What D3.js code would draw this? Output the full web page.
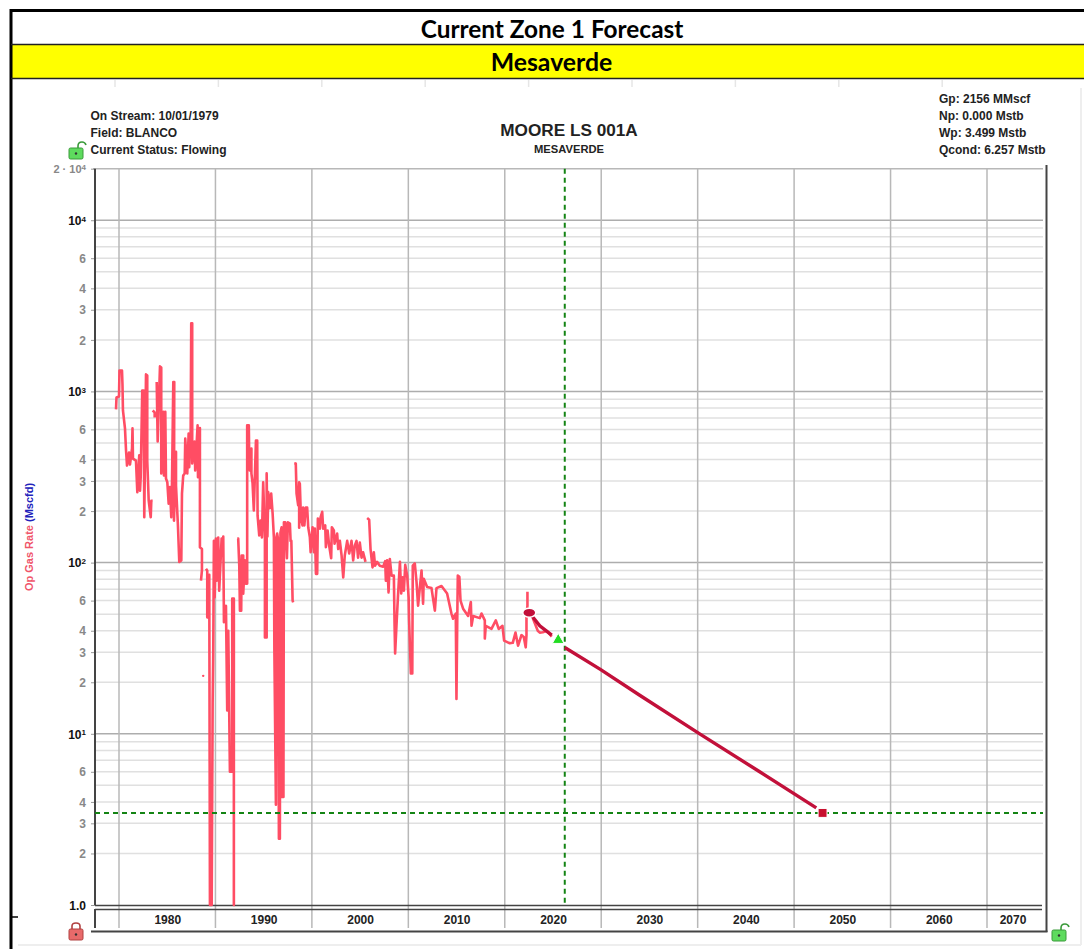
<!DOCTYPE html>
<html>
<head>
<meta charset="utf-8">
<script src="https://cdn.jsdelivr.net/npm/d3@7"></script>
<style>
    html, body { margin: 0; padding: 0; background: #fff; overflow: hidden; }
    svg { display: block; }
    text { font-family: "Liberation Sans", Arial, sans-serif; font-weight: bold; }
</style>
</head>
<body>
<div id="chart"></div>
<script>
// Header and annotation text
const headerTitle = "Current Zone 1 Forecast";
const headerZone = "Mesaverde";
const chartTitle = "MOORE LS 001A";
const chartSubtitle = "MESAVERDE";
const infoLeft = ["On Stream: 10/01/1979", "Field: BLANCO", "Current Status: Flowing"];
const infoRight = ["Gp: 2156 MMscf", "Np: 0.000 Mstb", "Wp: 3.499 Mstb", "Qcond: 6.257 Mstb"];

// Axis values
const gridYears = [1975, 1985, 1995, 2005, 2015, 2025, 2035, 2045, 2055, 2065];
const labelYears = [1980, 1990, 2000, 2010, 2020, 2030, 2040, 2050, 2060, 2070];
const majorRates = [10000, 1000, 100, 10];
const minorRates = [
    9000, 8000, 7000, 6000, 5000, 4000, 3000, 2000,
    900, 800, 700, 600, 500, 400, 300, 200,
    90, 80, 70, 60, 50, 40, 30, 20,
    9, 8, 7, 6, 5, 4, 3, 2
];
const labelledMinorRates = [6000, 4000, 3000, 2000, 600, 400, 300, 200, 60, 40, 30, 20, 6, 4, 3, 2];

// Op gas rate history, [year, Mscfd]
const history1975 = [
    [1974.69, 785], [1974.74, 921], [1975.00, 934], [1975.05, 1326], [1975.31, 1326], [1975.36, 1099],
    [1975.41, 774], [1975.62, 608], [1975.73, 452], [1975.83, 369], [1976.04, 440], [1976.14, 374],
    [1976.35, 464], [1976.40, 608], [1976.45, 405], [1976.76, 394], [1976.90, 258], [1977.10, 423],
    [1977.18, 263], [1977.25, 314], [1977.41, 1013], [1977.56, 1013], [1977.62, 184], [1977.73, 592],
    [1977.80, 1257], [1977.93, 1240], [1977.93, 394], [1978.08, 230], [1978.29, 184], [1978.35, 230],
    [1978.49, 230]
];
const history1978 = [[1978.49, 774], [1978.70, 754], [1978.70, 705]];
const history1979 = [
    [1978.91, 1134], [1979.01, 510], [1979.25, 1400], [1979.38, 1381], [1979.38, 332], [1979.59, 760],
    [1979.66, 323], [1979.80, 760], [1979.87, 310], [1980.01, 295], [1980.15, 221], [1980.28, 276],
    [1980.42, 184], [1980.49, 276], [1980.63, 1134], [1980.73, 1134], [1980.70, 176], [1980.91, 444],
    [1980.91, 282], [1981.11, 165], [1981.25, 101], [1981.46, 103], [1981.53, 253], [1981.66, 323],
    [1981.81, 332], [1981.87, 531], [1982.08, 332], [1982.22, 568], [1982.28, 361], [1982.43, 570],
    [1982.49, 2500], [1982.59, 2500], [1982.59, 379], [1982.84, 510], [1982.90, 345], [1983.15, 633],
    [1983.19, 315], [1983.39, 612], [1983.39, 568], [1983.39, 123], [1983.60, 120], [1983.60, 90],
    [1983.50, 78.5]
];
const history1984 = [
    [1984.02, 92], [1984.15, 89.7], [1984.15, 47.9], [1984.36, 84.9], [1984.43, 1], [1984.61, 1],
    [1984.71, 15.3], [1984.77, 28.6], [1984.84, 134], [1984.92, 62.7], [1985.05, 138], [1985.12, 78.5],
    [1985.29, 140], [1985.39, 68.6], [1985.64, 138], [1985.73, 122], [1985.81, 142], [1985.88, 44.8],
    [1986.09, 56], [1986.22, 13.7], [1986.33, 40], [1986.50, 6], [1986.74, 6], [1986.74, 61.6],
    [1986.91, 61.6], [1986.91, 1], [1987.02, 1]
];
const history1987 = [
    [1987.26, 138], [1987.36, 138], [1987.47, 96], [1987.54, 52.4], [1987.67, 52.4], [1987.72, 110],
    [1987.88, 110], [1987.88, 65.9], [1988.05, 103], [1988.16, 75.4], [1988.29, 75.4], [1988.29, 633],
    [1988.46, 633], [1988.49, 464], [1988.56, 345], [1988.73, 464], [1988.73, 332], [1988.85, 290],
    [1988.98, 202], [1989.20, 516], [1989.33, 516], [1989.37, 188], [1989.54, 144], [1989.68, 176],
    [1989.82, 140.5], [1989.95, 295], [1990.13, 140], [1990.13, 36.5], [1990.31, 36.5], [1990.31, 332],
    [1990.39, 142], [1990.47, 258], [1990.65, 208], [1990.78, 253], [1990.93, 193], [1991.06, 140],
    [1991.11, 30.6], [1991.27, 3.85], [1991.32, 140], [1991.40, 147.7], [1991.47, 140], [1991.58, 2.44],
    [1991.68, 2.44], [1991.74, 150], [1991.86, 161], [1991.89, 4.28], [1992.05, 4.28], [1992.10, 172],
    [1992.23, 172], [1992.41, 106], [1992.51, 172], [1992.72, 169], [1992.79, 134], [1992.87, 134],
    [1993.00, 60], [1993.06, 58.6]
];
const history1993 = [
    [1993.17, 381], [1993.33, 379], [1993.41, 253], [1993.58, 216], [1993.68, 295], [1993.68, 160],
    [1993.75, 290], [1993.86, 184], [1994.03, 165], [1994.09, 210], [1994.22, 165], [1994.37, 210],
    [1994.51, 210], [1994.62, 161], [1994.79, 140.5], [1994.87, 115], [1995.07, 161], [1995.21, 115],
    [1995.31, 158], [1995.42, 86], [1995.55, 86], [1995.62, 181], [1995.83, 158], [1995.90, 184],
    [1996.07, 198], [1996.17, 158], [1996.38, 165], [1996.45, 123], [1996.63, 154], [1996.79, 126],
    [1997.00, 106], [1997.07, 161], [1997.28, 154], [1997.35, 129], [1997.62, 148], [1997.73, 120],
    [1997.90, 134], [1998.08, 110], [1998.25, 81.9], [1998.41, 110], [1998.66, 134], [1998.87, 113],
    [1999.11, 134], [1999.28, 103], [1999.45, 126], [1999.63, 134], [1999.79, 107], [1999.97, 131],
    [2000.15, 107], [2000.31, 115], [2000.56, 101]
];
const history2001 = [
    [2000.73, 182], [2000.94, 178], [2001.08, 120], [2001.29, 93.7], [2001.42, 115], [2001.55, 96],
    [2001.76, 101], [2002.04, 96], [2002.39, 94.7], [2002.60, 102], [2002.67, 78.5], [2002.80, 103],
    [2002.95, 67], [2003.08, 105], [2003.26, 83.9], [2003.50, 83.9], [2003.57, 44], [2003.63, 29.5],
    [2003.78, 44], [2003.92, 62.7], [2004.13, 101], [2004.26, 66], [2004.41, 82], [2004.54, 68.6],
    [2004.68, 97], [2004.88, 83.9], [2005.03, 62.7], [2005.08, 46], [2005.26, 22.5], [2005.41, 22.5],
    [2005.46, 96], [2005.67, 99], [2005.85, 77], [2006.01, 56], [2006.37, 90], [2006.53, 57.6],
    [2006.60, 80.5], [2006.95, 72], [2007.40, 71], [2007.75, 52.4], [2007.92, 71], [2008.44, 73],
    [2009.02, 66], [2009.47, 50.4], [2009.64, 47], [2009.92, 50.4], [2009.99, 16], [2010.08, 50.4],
    [2010.13, 84], [2010.29, 82.7], [2010.41, 60], [2010.68, 53.8], [2011.20, 48.8], [2011.48, 58.8],
    [2011.55, 42.8], [2011.72, 48.8], [2012.41, 47.4], [2012.59, 50.4], [2012.93, 46], [2012.93, 36],
    [2013.03, 42.7], [2013.62, 41], [2014.07, 46], [2014.37, 41], [2014.76, 42.7], [2014.93, 35],
    [2015.52, 33.8], [2015.83, 34], [2016.11, 39], [2016.38, 32.7], [2016.73, 37.7], [2016.97, 36.8],
    [2017.17, 32], [2017.25, 37.7], [2017.25, 49], [2017.35, 56], [2017.35, 67.6]
];
const history2018 = [
    [2017.90, 47.4], [2018.42, 40], [2018.63, 39], [2018.94, 39.2], [2019.35, 40], [2019.87, 37]
];
const historyPieces = [history1975, history1978, history1979, history1984, history1987, history1993, history2001, history2018];
const strayPoints = [[1983.73, 21.8]];

// Forecast
const forecastFit = [[2017.80, 48.9], [2018.63, 42.7], [2019.87, 37.7]];
const forecastRun = [[2021.22, 31.9], [2024.95, 23.7], [2028.99, 16.8], [2035.21, 10], [2041.43, 6], [2047.30, 3.69]];
const forecastStart = [2017.54, 51];
const forecastNow = [2020.54, 35.3];
const forecastEnd = [2047.95, 3.45];
const currentYear = 2021.22;
const rateLimit = 3.45;

function drawLock(svg, x, y, body, edge, open) {
    const g = svg.append("g").attr("transform", `translate(${x},${y})`);
    const shackle = open ? "M9,1 V-2 Q9,-6 13,-6 Q16,-6 17,-3" : "M3,0 V-3 Q3,-6 7,-6 Q11,-6 11,-3 V0";
    g.append("path").attr("d", shackle).attr("fill", "none").attr("stroke", edge).attr("stroke-width", 1.6);
    g.append("rect").attr("width", 14).attr("height", 11).attr("rx", 1.5)
        .attr("fill", body).attr("stroke", edge);
    g.append("circle").attr("cx", 7).attr("cy", 5.5).attr("r", 1.2).attr("fill", "#333");
}

function createChart() {
    const width = 1084;
    const height = 949;
    const left = 95;
    const right = 1043;
    const top = 168.7;
    const bottom = 905;

    const svg = d3.select("#chart").append("svg")
        .attr("width", width)
        .attr("height", height);

    const x = d3.scaleLinear().domain([1975, 2065]).range([119, 987]);
    const y = d3.scaleLog().domain([1, 20000]).range([bottom, top]);

    // Page furniture
    svg.append("rect").attr("x", 12).attr("y", 45).attr("width", width - 12).attr("height", 33).attr("fill", "#ffff00");
    svg.append("line").attr("x1", 11).attr("x2", width).attr("y1", 10.5).attr("y2", 10.5).attr("stroke", "#000").attr("stroke-width", 3);
    svg.append("line").attr("x1", 11).attr("x2", 11).attr("y1", 9).attr("y2", height).attr("stroke", "#000").attr("stroke-width", 3);
    svg.append("line").attr("x1", 11).attr("x2", width).attr("y1", 44.5).attr("y2", 44.5).attr("stroke", "#222").attr("stroke-width", 1.5);
    svg.append("line").attr("x1", 11).attr("x2", width).attr("y1", 78.5).attr("y2", 78.5).attr("stroke", "#222").attr("stroke-width", 1.5);
    svg.append("line").attr("x1", 11).attr("x2", 18).attr("y1", 917).attr("y2", 917).attr("stroke", "#000").attr("stroke-width", 1.5);
    svg.append("line").attr("x1", 18).attr("x2", 1081).attr("y1", 945).attr("y2", 945).attr("stroke", "#eee").attr("stroke-width", 2);
    svg.append("line").attr("x1", 1081).attr("x2", 1081).attr("y1", 88).attr("y2", 945).attr("stroke", "#eee").attr("stroke-width", 2);
    // faint ruler ticks under the yellow band
    svg.selectAll(".ruler").data(d3.range(115, 1000, 103.4)).enter().append("line")
        .attr("x1", d => d).attr("x2", d => d).attr("y1", 80).attr("y2", 87)
        .attr("stroke", "#e6e6e6").attr("stroke-width", 1.5);

    svg.append("text").attr("x", 552).attr("y", 38).attr("text-anchor", "middle")
        .style("font-family", "Lato").style("font-size", "24.4px").attr("fill", "#000").text(headerTitle);
    svg.append("text").attr("x", 551.5).attr("y", 71).attr("text-anchor", "middle")
        .style("font-family", "Lato").style("font-size", "24.8px").attr("fill", "#000").text(headerZone);

    // Grid
    const grid = svg.append("g");
    grid.selectAll(".minor").data(minorRates).enter().append("line")
        .attr("x1", left).attr("x2", right)
        .attr("y1", d => y(d)).attr("y2", d => y(d))
        .attr("stroke", "#e0e0e0").attr("stroke-width", 1.5);
    grid.selectAll(".major").data(majorRates).enter().append("line")
        .attr("x1", left).attr("x2", right)
        .attr("y1", d => y(d)).attr("y2", d => y(d))
        .attr("stroke", "#adadad").attr("stroke-width", 1.5);
    grid.selectAll(".year").data(gridYears).enter().append("line")
        .attr("x1", d => x(d)).attr("x2", d => x(d))
        .attr("y1", top).attr("y2", 928)
        .attr("stroke", "#b8b8b8").attr("stroke-width", 1.5);
    grid.append("line").attr("x1", 93).attr("x2", right).attr("y1", top).attr("y2", top)
        .attr("stroke", "#b8b8b8").attr("stroke-width", 1.5);

    // Axes
    const yAxis = d3.axisLeft(y)
        .tickValues([20000].concat(majorRates, labelledMinorRates, [1]))
        .tickSize(4)
        .tickFormat("");
    const yGroup = svg.append("g").attr("transform", `translate(${left},0)`).call(yAxis);
    yGroup.select(".domain").remove();
    yGroup.selectAll(".tick line").attr("stroke", "#999");
    yGroup.selectAll(".tick").each(function (d) {
        const label = d3.select(this).select("text")
            .attr("x", -9)
            .attr("dy", "0.35em")
            .style("font-size", "12px");
        if (d === 20000) {
            label.attr("fill", "#888").style("font-size", "11px").text("2 · 10");
            label.append("tspan").attr("dy", "-0.4em").style("font-size", "8px").text("4");
        } else if (d === 1) {
            label.attr("fill", "#111").text("1.0");
        } else if (majorRates.includes(d)) {
            label.attr("fill", "#111").text("10");
            label.append("tspan").attr("dy", "-0.4em").style("font-size", "8px").text(Math.round(Math.log10(d)));
        } else {
            label.attr("fill", "#888").text(d / Math.pow(10, Math.floor(Math.log10(d))));
        }
    });

    const xAxis = d3.axisBottom(x).tickValues(labelYears).tickSize(0).tickFormat(d3.format("d"));
    const xGroup = svg.append("g").attr("transform", `translate(0,${bottom})`).call(xAxis);
    xGroup.select(".domain").remove();
    xGroup.selectAll(".tick text").attr("y", 15).attr("dy", "0.35em").attr("fill", "#222").style("font-size", "12px");
    // the last label sits in the middle of the part of the decade that is visible
    xGroup.selectAll(".tick").filter(d => d === 2070)
        .attr("transform", `translate(${(x(2065) + right) / 2 - 2},0)`);

    // Frame
    const frame = svg.append("g").attr("stroke", "#444").attr("fill", "none");
    frame.append("line").attr("x1", left).attr("x2", left).attr("y1", top).attr("y2", bottom).attr("stroke-width", 2);
    frame.append("line").attr("x1", left).attr("x2", left).attr("y1", 909).attr("y2", 928).attr("stroke-width", 2);
    frame.append("line").attr("x1", left).attr("x2", 1042).attr("y1", bottom + 0.5).attr("y2", bottom + 0.5).attr("stroke-width", 1.5);
    frame.append("line").attr("x1", left).attr("x2", 1042).attr("y1", 909.5).attr("y2", 909.5).attr("stroke-width", 1.5);
    frame.append("line").attr("x1", 91).attr("x2", 1047.5).attr("y1", 931.5).attr("y2", 931.5).attr("stroke-width", 2);
    frame.append("line").attr("x1", 1046.5).attr("x2", 1046.5).attr("y1", 165).attr("y2", 932).attr("stroke-width", 2);

    // Series
    const rateLine = d3.line().x(d => x(d[0])).y(d => y(d[1]));

    svg.selectAll(".history").data(historyPieces).enter().append("path")
        .attr("d", rateLine)
        .attr("fill", "none")
        .attr("stroke", "#ff4d64")
        .attr("stroke-width", 2.6)
        .attr("stroke-linejoin", "round");
    svg.selectAll(".stray").data(strayPoints).enter().append("circle")
        .attr("cx", d => x(d[0])).attr("cy", d => y(d[1])).attr("r", 1.2).attr("fill", "#ff4d64");

    // Cut-off lines
    const limits = svg.append("g").attr("stroke", "#148414").attr("stroke-width", 2).attr("stroke-dasharray", "5,4");
    limits.append("line").attr("x1", x(currentYear)).attr("x2", x(currentYear)).attr("y1", top).attr("y2", bottom);
    limits.append("line").attr("x1", left).attr("x2", right).attr("y1", y(rateLimit)).attr("y2", y(rateLimit));

    svg.selectAll(".forecast").data([forecastFit, forecastRun]).enter().append("path")
        .attr("d", rateLine)
        .attr("fill", "none")
        .attr("stroke", "#c2103a")
        .attr("stroke-width", 3.4);

    // Forecast markers
    svg.append("ellipse")
        .attr("cx", x(forecastStart[0])).attr("cy", y(forecastStart[1]))
        .attr("rx", 6.5).attr("ry", 4.5)
        .attr("fill", "#c2103a").attr("stroke", "#fff").attr("stroke-width", 1.5);
    svg.append("path")
        .attr("transform", `translate(${x(forecastNow[0])},${y(forecastNow[1])})`)
        .attr("d", d3.symbol(d3.symbolTriangle, 60))
        .attr("fill", "#22dd22").attr("stroke", "#fff");
    svg.append("path")
        .attr("transform", `translate(${x(forecastEnd[0])},${y(forecastEnd[1])})`)
        .attr("d", d3.symbol(d3.symbolSquare, 80))
        .attr("fill", "#c8102e").attr("stroke", "#fff");

    // Titles and well info
    svg.append("text").attr("x", 569).attr("y", 135.5).attr("text-anchor", "middle")
        .style("font-size", "17.2px").attr("fill", "#222").text(chartTitle);
    svg.append("text").attr("x", 569).attr("y", 153).attr("text-anchor", "middle")
        .style("font-size", "11.2px").attr("fill", "#222").text(chartSubtitle);
    svg.selectAll(".infoLeft").data(infoLeft).enter().append("text")
        .attr("x", 90.5).attr("y", (d, i) => 120 + i * 17)
        .style("font-size", "12px").attr("fill", "#222").text(d => d);
    svg.selectAll(".infoRight").data(infoRight).enter().append("text")
        .attr("x", 939).attr("y", (d, i) => 103 + i * 17)
        .style("font-size", "12px").attr("fill", "#222").text(d => d);

    const yTitle = svg.append("text")
        .attr("transform", "translate(33,537) rotate(-90)")
        .attr("text-anchor", "middle")
        .style("font-size", "11px");
    yTitle.append("tspan").attr("fill", "#f0556a").text("Op Gas Rate ");
    yTitle.append("tspan").attr("fill", "#2222bb").text("(Mscfd)");

    // Lock icons
    drawLock(svg, 69, 148, "#5edb5e", "#3a9a3a", true);
    drawLock(svg, 69, 929, "#e86a6a", "#b04040", false);
    drawLock(svg, 1052, 930, "#5edb5e", "#3a9a3a", true);
}

document.addEventListener("DOMContentLoaded", createChart);
</script>
</body>
</html>
